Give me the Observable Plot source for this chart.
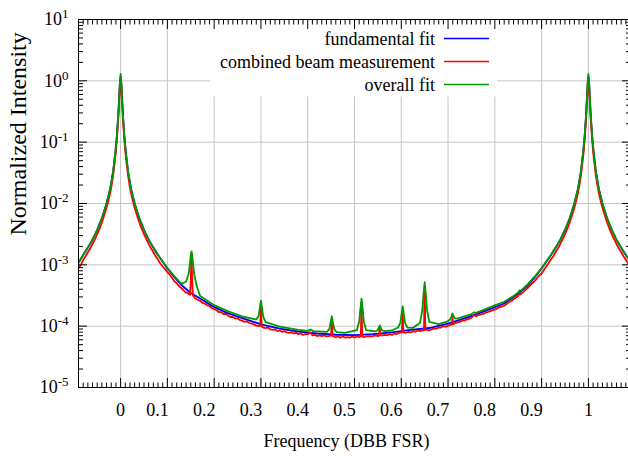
<!DOCTYPE html>
<html><head><meta charset="utf-8">
<script src="https://cdn.jsdelivr.net/npm/d3@7"></script>
<script src="https://cdn.jsdelivr.net/npm/@observablehq/plot@0.6"></script>
<style>html,body{margin:0;padding:0;background:#fff;}</style>
</head><body><div id="chart"></div>
<script>
// ---- data: [frequency (DBB FSR), normalized intensity] ----
const fundamentalFit = [[-0.09,1.08e-3],[-0.08,1.45e-3],[-0.07,1.91e-3],[-0.06,2.57e-3],[-0.05,3.72e-3],[-0.04,5.75e-3],[-0.03,1.0e-2],[-0.022,1.78e-2],[-0.016,3.31e-2],[-0.011,7.08e-2],[-0.008,0.126],[-0.005,0.275],[-0.003,0.537],[-0.0015,0.912],[0,1.175],[0.0015,0.912],[0.003,0.537],[0.005,0.275],[0.008,0.126],[0.011,7.08e-2],[0.016,3.31e-2],[0.022,1.78e-2],[0.03,1.0e-2],[0.04,5.75e-3],[0.05,3.72e-3],[0.06,2.57e-3],[0.07,1.91e-3],[0.08,1.45e-3],[0.09,1.12e-3],[0.10,8.71e-4],[0.115,6.31e-4],[0.13,4.68e-4],[0.15,3.47e-4],[0.17,2.82e-4],[0.20,2.04e-4],[0.23,1.62e-4],[0.26,1.35e-4],[0.30,1.07e-4],[0.34,9.12e-5],[0.38,8.13e-5],[0.42,7.59e-5],[0.46,7.24e-5],[0.50,7.16e-5],[0.54,7.41e-5],[0.58,7.94e-5],[0.62,8.71e-5],[0.66,9.33e-5],[0.70,1.10e-4],[0.74,1.38e-4],[0.78,1.78e-4],[0.82,2.34e-4],[0.85,3.39e-4],[0.87,4.57e-4],[0.885,6.2e-4],[0.90,8.71e-4],[0.91,1.12e-3],[0.92,1.45e-3],[0.93,1.91e-3],[0.94,2.57e-3],[0.95,3.72e-3],[0.96,5.75e-3],[0.97,1.0e-2],[0.978,1.78e-2],[0.984,3.31e-2],[0.989,7.08e-2],[0.992,0.126],[0.995,0.275],[0.997,0.537],[0.9985,0.912],[1.0,1.175],[1.0015,0.912],[1.003,0.537],[1.005,0.275],[1.008,0.126],[1.011,7.08e-2],[1.016,3.31e-2],[1.022,1.78e-2],[1.03,1.0e-2],[1.04,5.75e-3],[1.05,3.72e-3],[1.06,2.57e-3],[1.07,1.91e-3],[1.08,1.45e-3],[1.09,1.12e-3]];

const combinedMeasurement = [[-0.09,8.7e-4],[-0.085,1.0e-3],[-0.08,1.2e-3],[-0.075,1.38e-3],[-0.07,1.6e-3],[-0.065,1.86e-3],[-0.06,2.19e-3],[-0.055,2.6e-3],[-0.05,3.16e-3],[-0.045,3.89e-3],[-0.04,4.9e-3],[-0.035,6.46e-3],[-0.03,8.5e-3],[-0.026,1.12e-2],[-0.022,1.51e-2],[-0.019,2.04e-2],[-0.016,2.82e-2],[-0.0135,4.07e-2],[-0.011,6.03e-2],[-0.008,0.107],[-0.005,0.234],[-0.003,0.468],[-0.0015,0.813],[0,1.10],[0.0015,0.813],[0.003,0.468],[0.005,0.234],[0.008,0.107],[0.011,6.03e-2],[0.0135,4.07e-2],[0.016,2.82e-2],[0.019,2.04e-2],[0.022,1.51e-2],[0.026,1.12e-2],[0.03,8.5e-3],[0.035,6.46e-3],[0.04,4.9e-3],[0.045,3.89e-3],[0.05,3.16e-3],[0.055,2.63e-3],[0.06,2.19e-3],[0.065,1.86e-3],[0.07,1.62e-3],[0.075,1.38e-3],[0.08,1.21e-3],[0.085,1.05e-3],[0.09,9.4e-4],[0.095,8.5e-4],[0.10,7.6e-4],[0.105,6.9e-4],[0.11,6.17e-4],[0.115,5.37e-4],[0.12,5.0e-4],[0.125,4.47e-4],[0.13,4.17e-4],[0.135,3.8e-4],[0.14,3.55e-4],[0.145,3.39e-4],[0.1486,3.24e-4],[0.1501,6.0e-4],[0.1516,1.5e-3],[0.1531,5.5e-4],[0.1546,3.16e-4],[0.16,2.82e-4],[0.165,2.69e-4],[0.17,2.6e-4],[0.175,2.4e-4],[0.18,2.34e-4],[0.185,2.19e-4],[0.19,2.14e-4],[0.195,1.95e-4],[0.20,1.91e-4],[0.205,1.82e-4],[0.21,1.70e-4],[0.215,1.70e-4],[0.22,1.58e-4],[0.225,1.58e-4],[0.23,1.48e-4],[0.235,1.41e-4],[0.24,1.41e-4],[0.245,1.33e-4],[0.25,1.35e-4],[0.255,1.26e-4],[0.26,1.23e-4],[0.265,1.17e-4],[0.27,1.2e-4],[0.275,1.12e-4],[0.28,1.10e-4],[0.285,1.07e-4],[0.29,1.02e-4],[0.295,1.0e-4],[0.2985,1.02e-4],[0.30,2.2e-4],[0.3015,9.9e-5],[0.305,9.5e-5],[0.31,9.3e-5],[0.315,9.5e-5],[0.32,8.9e-5],[0.325,8.7e-5],[0.33,8.9e-5],[0.335,8.3e-5],[0.34,8.5e-5],[0.345,8.1e-5],[0.35,8.3e-5],[0.355,7.9e-5],[0.36,7.8e-5],[0.365,7.9e-5],[0.37,7.6e-5],[0.375,7.8e-5],[0.38,7.4e-5],[0.385,7.6e-5],[0.39,7.2e-5],[0.395,7.4e-5],[0.40,7.4e-5],[0.405,7.9e-5],[0.41,7.1e-5],[0.415,7.2e-5],[0.42,6.9e-5],[0.425,7.1e-5],[0.43,6.9e-5],[0.435,7.1e-5],[0.44,6.8e-5],[0.445,6.9e-5],[0.45,7.0e-5],[0.4515,1.3e-4],[0.453,7.0e-5],[0.455,6.8e-5],[0.46,6.6e-5],[0.465,6.8e-5],[0.47,6.5e-5],[0.475,6.8e-5],[0.48,6.5e-5],[0.485,6.6e-5],[0.49,6.5e-5],[0.495,6.8e-5],[0.50,6.5e-5],[0.505,6.8e-5],[0.51,6.6e-5],[0.5135,6.8e-5],[0.515,2.5e-4],[0.5165,6.8e-5],[0.52,6.6e-5],[0.525,6.8e-5],[0.53,6.9e-5],[0.535,6.8e-5],[0.54,6.9e-5],[0.545,7.1e-5],[0.55,6.9e-5],[0.5525,7.0e-5],[0.554,9.5e-5],[0.5555,7.1e-5],[0.56,7.1e-5],[0.565,7.2e-5],[0.57,7.1e-5],[0.575,7.4e-5],[0.58,7.2e-5],[0.585,7.6e-5],[0.59,7.4e-5],[0.595,7.8e-5],[0.6015,7.9e-5],[0.603,1.8e-4],[0.6045,7.9e-5],[0.61,7.8e-5],[0.615,8.1e-5],[0.62,7.9e-5],[0.625,8.3e-5],[0.63,8.1e-5],[0.635,8.5e-5],[0.64,8.3e-5],[0.645,8.5e-5],[0.6485,8.6e-5],[0.65,4.4e-4],[0.6515,8.7e-5],[0.655,8.7e-5],[0.66,8.5e-5],[0.665,8.9e-5],[0.67,9.1e-5],[0.675,9.1e-5],[0.68,9.5e-5],[0.685,9.5e-5],[0.69,1.0e-4],[0.695,9.8e-5],[0.70,1.02e-4],[0.705,1.05e-4],[0.708,1.06e-4],[0.7094,1.4e-4],[0.711,1.07e-4],[0.715,1.12e-4],[0.72,1.15e-4],[0.725,1.17e-4],[0.73,1.23e-4],[0.735,1.23e-4],[0.74,1.29e-4],[0.745,1.32e-4],[0.75,1.38e-4],[0.755,1.51e-4],[0.76,1.45e-4],[0.765,1.51e-4],[0.77,1.55e-4],[0.775,1.58e-4],[0.78,1.66e-4],[0.785,1.70e-4],[0.79,1.76e-4],[0.795,1.82e-4],[0.80,1.86e-4],[0.805,1.95e-4],[0.81,2.04e-4],[0.815,2.09e-4],[0.82,2.16e-4],[0.825,2.29e-4],[0.83,2.45e-4],[0.835,2.57e-4],[0.84,2.75e-4],[0.845,2.92e-4],[0.85,3.09e-4],[0.853,3.39e-4],[0.855,3.31e-4],[0.86,3.55e-4],[0.865,3.89e-4],[0.87,4.17e-4],[0.875,4.57e-4],[0.88,5.01e-4],[0.885,5.43e-4],[0.89,6.03e-4],[0.895,6.76e-4],[0.90,7.2e-4],[0.905,8.3e-4],[0.91,9.4e-4],[0.915,1.07e-3],[0.92,1.23e-3],[0.925,1.38e-3],[0.93,1.62e-3],[0.935,1.86e-3],[0.94,2.19e-3],[0.945,2.63e-3],[0.95,3.16e-3],[0.955,3.89e-3],[0.96,4.9e-3],[0.965,6.46e-3],[0.97,8.5e-3],[0.974,1.12e-2],[0.978,1.51e-2],[0.981,2.04e-2],[0.984,2.82e-2],[0.9865,4.07e-2],[0.989,6.03e-2],[0.992,0.107],[0.995,0.234],[0.997,0.468],[0.9985,0.813],[1.0,1.10],[1.0015,0.813],[1.003,0.468],[1.005,0.234],[1.008,0.107],[1.011,6.03e-2],[1.0135,4.07e-2],[1.016,2.82e-2],[1.019,2.04e-2],[1.022,1.51e-2],[1.026,1.12e-2],[1.03,8.5e-3],[1.035,6.46e-3],[1.04,4.9e-3],[1.045,3.89e-3],[1.05,3.16e-3],[1.055,2.63e-3],[1.06,2.19e-3],[1.065,1.86e-3],[1.07,1.62e-3],[1.075,1.38e-3],[1.08,1.21e-3],[1.085,1.05e-3],[1.09,9.3e-4]];

const overallFit = [[-0.09,1.08e-3],[-0.08,1.45e-3],[-0.07,1.91e-3],[-0.06,2.57e-3],[-0.05,3.72e-3],[-0.04,5.75e-3],[-0.03,1.0e-2],[-0.022,1.78e-2],[-0.016,3.31e-2],[-0.011,7.08e-2],[-0.008,0.126],[-0.005,0.28],[-0.003,0.55],[-0.0015,0.95],[0,1.30],[0.0015,0.95],[0.003,0.55],[0.005,0.28],[0.008,0.126],[0.011,7.08e-2],[0.016,3.31e-2],[0.022,1.78e-2],[0.03,1.0e-2],[0.04,5.75e-3],[0.05,3.72e-3],[0.06,2.57e-3],[0.07,1.91e-3],[0.08,1.45e-3],[0.09,1.13e-3],[0.10,8.9e-4],[0.115,6.5e-4],[0.13,4.9e-4],[0.1396,5.3e-4],[0.1456,7.15e-4],[0.1486,1.12e-3],[0.1501,1.46e-3],[0.1516,1.65e-3],[0.1531,1.45e-3],[0.1546,1.10e-3],[0.1576,6.75e-4],[0.1636,4.3e-4],[0.17,3.1e-4],[0.20,2.2e-4],[0.23,1.74e-4],[0.26,1.45e-4],[0.29,1.28e-4],[0.295,1.46e-4],[0.2975,1.96e-4],[0.30,2.6e-4],[0.3025,1.94e-4],[0.305,1.42e-4],[0.31,1.16e-4],[0.34,9.8e-5],[0.38,8.7e-5],[0.40,8.4e-5],[0.406,8.8e-5],[0.412,8.3e-5],[0.4415,8.1e-5],[0.4465,9.1e-5],[0.449,1.15e-4],[0.4515,1.45e-4],[0.454,1.15e-4],[0.4565,9.1e-5],[0.4615,8.0e-5],[0.48,7.8e-5],[0.505,8.6e-5],[0.51,1.18e-4],[0.5125,1.88e-4],[0.515,2.8e-4],[0.5175,1.88e-4],[0.52,1.18e-4],[0.525,8.6e-5],[0.544,8.2e-5],[0.549,8.5e-5],[0.5515,9.3e-5],[0.554,1.03e-4],[0.5565,9.3e-5],[0.559,8.5e-5],[0.564,8.3e-5],[0.58,8.5e-5],[0.593,9.5e-5],[0.598,1.14e-4],[0.6005,1.56e-4],[0.603,2.1e-4],[0.6055,1.56e-4],[0.608,1.14e-4],[0.613,9.5e-5],[0.625,9.4e-5],[0.64,1.13e-4],[0.645,1.82e-4],[0.6475,3.29e-4],[0.65,5.2e-4],[0.6525,3.29e-4],[0.655,1.82e-4],[0.66,1.17e-4],[0.68,1.08e-4],[0.6994,1.2e-4],[0.7044,1.28e-4],[0.7069,1.42e-4],[0.7094,1.62e-4],[0.7119,1.45e-4],[0.7144,1.34e-4],[0.7194,1.33e-4],[0.74,1.48e-4],[0.75,1.57e-4],[0.755,1.68e-4],[0.76,1.65e-4],[0.78,1.9e-4],[0.80,2.18e-4],[0.82,2.5e-4],[0.84,3.1e-4],[0.85,3.55e-4],[0.853,3.85e-4],[0.856,3.8e-4],[0.87,4.8e-4],[0.885,6.4e-4],[0.90,8.9e-4],[0.91,1.13e-3],[0.92,1.45e-3],[0.93,1.91e-3],[0.94,2.57e-3],[0.95,3.72e-3],[0.96,5.75e-3],[0.97,1.0e-2],[0.978,1.78e-2],[0.984,3.31e-2],[0.989,7.08e-2],[0.992,0.126],[0.995,0.28],[0.997,0.55],[0.9985,0.95],[1.0,1.30],[1.0015,0.95],[1.003,0.55],[1.005,0.28],[1.008,0.126],[1.011,7.08e-2],[1.016,3.31e-2],[1.022,1.78e-2],[1.03,1.0e-2],[1.04,5.75e-3],[1.05,3.72e-3],[1.06,2.57e-3],[1.07,1.91e-3],[1.08,1.45e-3],[1.09,1.12e-3]];

const seriesNames = ["fundamental fit", "combined beam measurement", "overall fit"];
const seriesColors = ["#0000ff", "#ff0000", "#009a00"];
const xTicks = [0, 0.1, 0.2, 0.3, 0.4, 0.5, 0.6, 0.7, 0.8, 0.9, 1];
const xTickLabels = ["0", "0.1", "0.2", "0.3", "0.4", "0.5", "0.6", "0.7", "0.8", "0.9", "1"];
const yTicks = [1e-5, 1e-4, 1e-3, 1e-2, 1e-1, 1, 10];
const yTickExponents = ["-5", "-4", "-3", "-2", "-1", "0", "1"];
const xTitle = "Frequency (DBB FSR)";
const yTitle = "Normalized Intensity";

// ---- minor tick positions ----
const xMinorTicks = d3.range(-9, 110).filter(i => i % 10 !== 0).map(i => i / 100);
const yMinorTicks = d3.range(-5, 1).flatMap(k => d3.range(2, 10).map(m => m * Math.pow(10, k)));

const FONT = "'Liberation Serif', 'Times New Roman', serif";
const GRID = "#c4c4c4";

function legendBox(index, scales, values, dim) {
  const g = d3.create("svg:g");
  g.append("rect").attr("x", 210).attr("y", dim.marginTop + 0.5)
    .attr("width", 287).attr("height", 96 - dim.marginTop).attr("fill", "white");
  return g.node();
}
function legendEntries(index, scales, values, dim) {
  const g = d3.create("svg:g").attr("font-family", FONT).attr("font-size", 18);
  seriesNames.forEach((name, i) => {
    const cy = 38.5 + i * 23;
    g.append("text").attr("x", 435).attr("y", cy + 6.5).attr("text-anchor", "end").attr("fill", "black").text(name);
    g.append("line").attr("x1", 444).attr("x2", 489).attr("y1", cy).attr("y2", cy)
      .attr("stroke", seriesColors[i]).attr("stroke-width", 1.5);
  });
  return g.node();
}

const lineOpts = (data, i) => Plot.line(data, {x: d => d[0], y: d => d[1], stroke: seriesColors[i], strokeWidth: 1.8, clip: true});
const blank = () => "";
const isDecimal = d => xTickLabels[xTicks.indexOf(d)].length > 1;

const chart = Plot.plot({
  width: 628, height: 456,
  marginLeft: 78, marginRight: -2, marginTop: 19, marginBottom: 69,
  style: {fontFamily: FONT, fontSize: "18px", background: "white", color: "black"},
  x: {domain: [-0.09, 1.09]},
  y: {type: "log", domain: [1e-5, 10]},
  marks: [
    Plot.gridX(xTicks, {stroke: GRID, strokeOpacity: 1, strokeWidth: 1}),
    Plot.gridY(yTicks.slice(1, -1), {stroke: GRID, strokeOpacity: 1, strokeWidth: 1}),
    legendBox,
    lineOpts(fundamentalFit, 0),
    lineOpts(combinedMeasurement, 1),
    lineOpts(overallFit, 2),
    Plot.frame({stroke: "black", strokeWidth: 1}),
    Plot.axisX(xTicks, {anchor: "bottom", tickSize: -9, tickFormat: blank, label: null}),
    Plot.axisX(xTicks, {anchor: "top", tickSize: -9, tickFormat: blank, label: null}),
    Plot.axisX(xMinorTicks, {anchor: "bottom", tickSize: -4.5, tickFormat: blank, label: null}),
    Plot.axisX(xMinorTicks, {anchor: "top", tickSize: -4.5, tickFormat: blank, label: null}),
    Plot.axisY(yTicks, {anchor: "left", tickSize: -9, tickFormat: blank, label: null}),
    Plot.axisY(yTicks, {anchor: "right", tickSize: -9, tickFormat: blank, label: null}),
    Plot.axisY(yMinorTicks, {anchor: "left", tickSize: -5, tickFormat: blank, label: null}),
    Plot.axisY(yMinorTicks, {anchor: "right", tickSize: -5, tickFormat: blank, label: null}),
    Plot.axisX(xTicks.filter(d => !isDecimal(d)), {anchor: "bottom", tickSize: 0, tickPadding: 16, label: null,
      tickFormat: d => xTickLabels[xTicks.indexOf(d)]}),
    Plot.axisX(xTicks.filter(isDecimal), {anchor: "bottom", tickSize: 0, tickPadding: 16, dx: -10, label: null,
      tickFormat: d => xTickLabels[xTicks.indexOf(d)]}),
    Plot.axisY(yTicks, {anchor: "left", tickSize: 0, tickPadding: 10, label: null,
      tickFormat: d => "10^" + yTickExponents[yTicks.indexOf(d)]}),
    Plot.text([xTitle], {text: d => d, frameAnchor: "bottom", dx: -8, dy: 54, lineAnchor: "middle"}),
    Plot.text([yTitle], {text: d => d, frameAnchor: "left", dx: -60, dy: 32, rotate: -90, lineAnchor: "middle", fontSize: 24}),
    legendEntries
  ]
});

// superscript exponents on the log-axis tick labels
const NS = "http://www.w3.org/2000/svg";
chart.querySelectorAll("text").forEach(t => {
  const m = /^10\^(.+)$/.exec(t.textContent);
  if (!m) return;
  t.textContent = "";
  const base = document.createElementNS(NS, "tspan");
  base.textContent = "10";
  const sup = document.createElementNS(NS, "tspan");
  sup.textContent = m[1];
  sup.setAttribute("dy", "-7");
  sup.setAttribute("font-size", "13");
  t.append(base, sup);
});

document.getElementById("chart").appendChild(chart);
</script>
</body></html>
